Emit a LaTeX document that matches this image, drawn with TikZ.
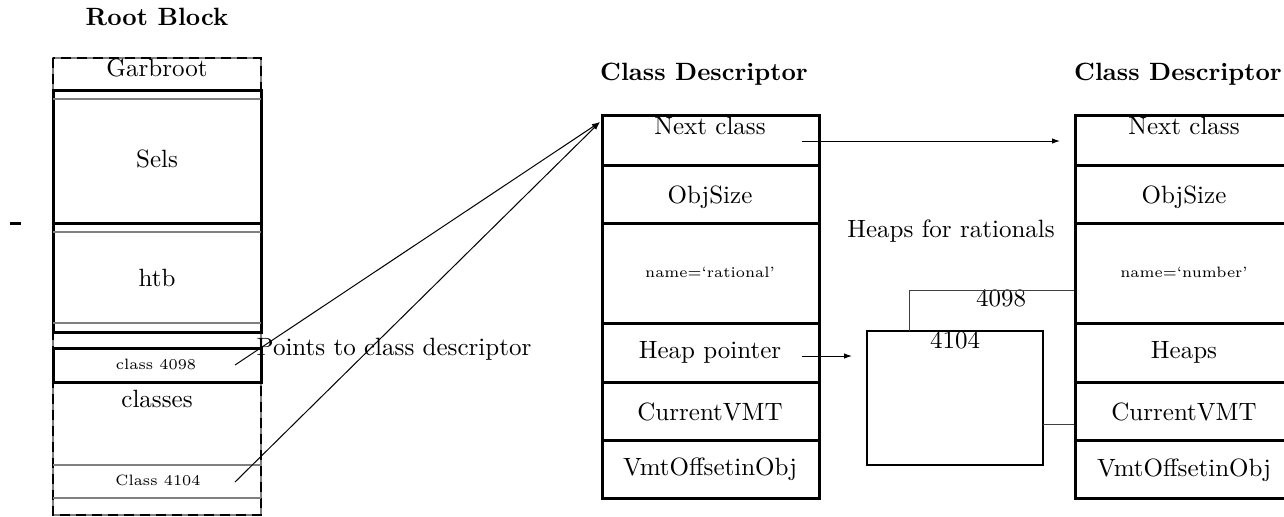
\documentclass[tikz,border=0pt]{standalone}
\usetikzlibrary{arrows.meta}
\begin{document}
\begin{tikzpicture}[x=0.4pt,y=-0.4pt,
 thickbox/.style={line width=1.2pt},
 grayrule/.style={draw=gray,line width=0.6pt},
 conn/.style={line width=0.4pt,-{Latex[length=3.2pt,width=2.2pt]}},
 thinlink/.style={draw=black!75,line width=0.4pt},
 lbl/.style={inner sep=0pt,anchor=base},
 small/.style={inner sep=0pt,anchor=base,font=\fontsize{6}{7}\selectfont},
 ttl/.style={inner sep=0pt,anchor=base,font=\bfseries}]
\useasboundingbox (0,0) rectangle (1284,516);
\clip (0,0) rectangle (1284,516);

% ---------- Root block ----------
\node[ttl] (rbtitle) at (157,25) {Root Block};
\draw[gray,line width=0.5pt] (53,58) rectangle (261,515);
\draw[line width=0.9pt,dash pattern=on 4pt off 2.4pt] (53,58) rectangle (261,515);
\draw[thickbox] (53,90) rectangle (261,332);
\draw[thickbox] (53,223) -- (261,223);
\draw[grayrule] (53,99) -- (261,99);
\draw[grayrule] (53,232) -- (261,232);
\draw[grayrule] (53,323) -- (261,323);
\draw[grayrule] (53,465) -- (261,465);
\draw[grayrule] (53,498) -- (261,498);
\draw[thickbox] (53,348) rectangle (261,382);
\draw[line width=1.2pt] (10,223) -- (21,223);

\node[lbl] (garb) at (157,76) {Garbroot};
\node[lbl] (sels) at (157,167) {Sels};
\node[lbl] (htb) at (157,286) {htb};
\node[small] (cl4098) at (156,369) {class 4098};
\node[lbl] (classes) at (157,407) {classes};
\node[small] (cl4104) at (158,485) {Class 4104};

\coordinate (from4098) at (235,365);
\coordinate (from4104) at (235,482);
\coordinate (cdtop) at (600,122);
\draw[conn] (from4098) -- (cdtop);
\draw[conn] (from4104) -- (cdtop);
\node[lbl] (points) at (394,355) {Points to class descriptor};

% ---------- Middle class descriptor ----------
\node[ttl] (cdtitleA) at (704,80) {Class Descriptor};
\draw[thickbox] (602,115) rectangle (819,498);
\foreach \yy in {165,223,323,382,440} \draw[thickbox] (602,\yy) -- (819,\yy);
\node[lbl] (nextA) at (710,134) {Next class};
\node[lbl] (sizeA) at (710,203) {ObjSize};
\node[small] (nameA) at (710,277) {name=`rational'};
\node[lbl] (heapA) at (710,358) {Heap pointer};
\node[lbl] (vmtA) at (710,420) {CurrentVMT};
\node[lbl] (offA) at (710,475) {VmtOffsetinObj};

% ---------- Heap box ----------
\node[lbl] (heapsfor) at (951,237) {Heaps for rationals};
\draw[line width=0.8pt] (867,331) rectangle (1043,465);
\node[lbl] (n4104) at (955,348) {4104};
\node[lbl] (n4098) at (1001,306) {4098};
\draw[thinlink] (909,331) -- (909,290) -- (1075,290);
\draw[thinlink] (1043,424) -- (1075,424);

% ---------- Right class descriptor ----------
\node[ttl] (cdtitleB) at (1178,80) {Class Descriptor};
\draw[thickbox] (1075,115) rectangle (1293,498);
\foreach \yy in {165,223,323,382,440} \draw[thickbox] (1075,\yy) -- (1293,\yy);
\node[lbl] (nextB) at (1184,134) {Next class};
\node[lbl] (sizeB) at (1184,203) {ObjSize};
\node[small] (nameB) at (1184,277) {name=`number'};
\node[lbl] (heapB) at (1184,358) {Heaps};
\node[lbl] (vmtB) at (1184,420) {CurrentVMT};
\node[lbl] (offB) at (1184,476) {VmtOffsetinObj};

% ---------- connectors ----------
\coordinate (nextfrom) at (802,141);
\coordinate (nextto) at (1060,141);
\coordinate (heapfrom) at (802,356);
\coordinate (heapto) at (852,356);
\draw[conn] (nextfrom) -- (nextto);
\draw[conn] (heapfrom) -- (heapto);
\end{tikzpicture}
\end{document}
